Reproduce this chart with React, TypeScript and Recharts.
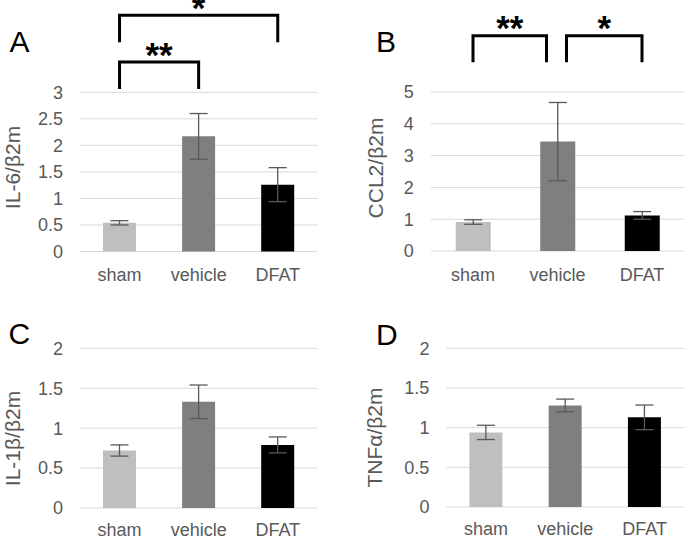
import React from 'react';
import { BarChart, Bar, XAxis, YAxis, CartesianGrid, ErrorBar, Cell, ReferenceLine } from 'recharts';

const categories = ['sham', 'vehicle', 'DFAT'];
const barColors = ['#bfbfbf', '#7f7f7f', '#000000'];

const il6Mean = [0.54, 2.17, 1.26];
const il6Err = [0.04, 0.43, 0.32];
const ccl2Mean = [0.91, 3.44, 1.12];
const ccl2Err = [0.07, 1.23, 0.12];
const il1bMean = [0.72, 1.33, 0.79];
const il1bErr = [0.07, 0.21, 0.1];
const tnfaMean = [0.94, 1.28, 1.13];
const tnfaErr = [0.09, 0.08, 0.155];

const il6Ticks = [0, 0.5, 1, 1.5, 2, 2.5, 3];
const ccl2Ticks = [0, 1, 2, 3, 4, 5];
const smallTicks = [0, 0.5, 1, 1.5, 2];

const il6Brackets = [
  { from: 'sham', to: 'vehicle', y: 3.57, label: '**', insetL: 0, insetR: 0 },
  { from: 'sham', to: 'DFAT', y: 4.45, label: '*', insetL: 0, insetR: 0 },
];
const ccl2Brackets = [
  { from: 'sham', to: 'vehicle', y: 6.77, label: '**', insetL: 0, insetR: 11 },
  { from: 'vehicle', to: 'DFAT', y: 6.77, label: '*', insetL: 9, insetR: 0 },
];

const FONT = '"Liberation Sans", Arial, Helvetica, sans-serif';

const build = (means: number[], errs: number[]) =>
  categories.map((c, i) => ({ name: c, value: means[i], err: errs[i] }));

const bracketShape = (insetL: number, insetR: number, label: string, leg: number) => (props: any) => {
  const { x1, y1, x2 } = props;
  const xa = x1 + insetL;
  const xb = x2 - insetR;
  return (
    <g>
      <path
        d={`M${xa},${y1 + leg}V${y1}H${xb}V${y1 + leg}`}
        stroke="#000"
        strokeWidth={3}
        fill="none"
        strokeLinejoin="miter"
      />
      <text
        x={(xa + xb) / 2}
        y={y1 + 4.5}
        textAnchor="middle"
        fontSize={35}
        fontWeight={700}
        fontFamily={FONT}
        fill="#000"
      >
        {label}
      </text>
    </g>
  );
};

type PanelProps = {
  left: number;
  top: number;
  width: number;
  height: number;
  margin: { top: number; right: number; bottom: number; left: number };
  xAxisHeight: number;
  xTickMargin: number;
  data: any[];
  ticks: number[];
  domainMax: number;
  barSize: number;
  yLabel: string;
  yLabelX: number;
  yLabelY: number;
  brackets?: any[];
  leg?: number;
};

const Panel = (p: PanelProps) => {
  const tickStyle = { fill: '#595959', fontSize: 18, fontFamily: FONT };
  return (
    <div style={{ position: 'absolute', left: p.left, top: p.top, width: p.width, height: p.height }}>
      <BarChart width={p.width} height={p.height} data={p.data} margin={p.margin}>
        <CartesianGrid vertical={false} stroke="#d9d9d9" strokeWidth={1} />
        <XAxis
          dataKey="name"
          axisLine={false}
          tickLine={false}
          tickSize={0}
          tickMargin={p.xTickMargin}
          height={p.xAxisHeight}
          tick={tickStyle}
          interval={0}
        />
        <YAxis
          width={60}
          domain={[0, p.domainMax]}
          ticks={p.ticks}
          axisLine={false}
          tickLine={false}
          tickSize={0}
          tickMargin={17}
          tick={tickStyle}
          label={{
            content: () => (
              <text
                x={p.yLabelX}
                y={p.yLabelY}
                dy="0.355em"
                transform={`rotate(-90 ${p.yLabelX} ${p.yLabelY})`}
                textAnchor="middle"
                fontSize={21}
                fontFamily={FONT}
                fill="#595959"
              >
                {p.yLabel}
              </text>
            ),
          }}
        />
        <Bar dataKey="value" barSize={p.barSize} isAnimationActive={false}>
          {p.data.map((d, i) => (
            <Cell key={d.name} fill={barColors[i]} />
          ))}
          <ErrorBar dataKey="err" direction="y" width={9} stroke="#595959" strokeWidth={1.3} />
        </Bar>
        {(p.brackets || []).map((b, i) => (
          <ReferenceLine
            key={i}
            segment={[
              { x: b.from, y: b.y },
              { x: b.to, y: b.y },
            ]}
            position="middle"
            ifOverflow="visible"
            shape={bracketShape(b.insetL, b.insetR, b.label, p.leg || 27)}
          />
        ))}
      </BarChart>
    </div>
  );
};

export default function App() {
  return (
    <div style={{ position: 'absolute', left: 0, top: 0, width: 685, height: 537, background: '#fff', overflow: 'hidden' }}>
      <Panel
        left={0}
        top={0}
        width={330}
        height={285}
        margin={{ top: 92.3, right: 12.7, bottom: 3.5, left: 20 }}
        xAxisHeight={30}
        xTickMargin={17}
        data={build(il6Mean, il6Err)}
        ticks={il6Ticks}
        domainMax={3}
        barSize={33}
        yLabel="IL-6/β2m"
        yLabelX={12.3}
        yLabelY={167.5}
        brackets={il6Brackets}
        leg={27}
      />
      <Panel
        left={340}
        top={0}
        width={345}
        height={285}
        margin={{ top: 92, right: 0.75, bottom: 4, left: 30.75 }}
        xAxisHeight={30}
        xTickMargin={17}
        data={build(ccl2Mean, ccl2Err)}
        ticks={ccl2Ticks}
        domainMax={5}
        barSize={35}
        yLabel="CCL2/β2m"
        yLabelX={35.5}
        yLabelY={168}
        brackets={ccl2Brackets}
        leg={26.5}
      />
      <Panel
        left={0}
        top={280}
        width={330}
        height={257}
        margin={{ top: 68.3, right: 12.7, bottom: 3, left: 20 }}
        xAxisHeight={26}
        xTickMargin={15}
        data={build(il1bMean, il1bErr)}
        ticks={smallTicks}
        domainMax={2}
        barSize={33}
        yLabel="IL-1β/β2m"
        yLabelX={12.3}
        yLabelY={158.5}
      />
      <Panel
        left={340}
        top={280}
        width={345}
        height={257}
        margin={{ top: 68.3, right: 0.8, bottom: 4, left: 46.4 }}
        xAxisHeight={26}
        xTickMargin={15}
        data={build(tnfaMean, tnfaErr)}
        ticks={smallTicks}
        domainMax={2}
        barSize={33}
        yLabel="TNFα/β2m"
        yLabelX={35}
        yLabelY={157.5}
      />
      <svg
        width={685}
        height={537}
        style={{ position: 'absolute', left: 0, top: 0, pointerEvents: 'none' }}
      >
        <g fontFamily={FONT} fontSize={30} fill="#000">
          <text x={9.5} y={51.5}>A</text>
          <text x={376} y={51.5}>B</text>
          <text x={8.5} y={344}>C</text>
          <text x={376} y={344.5}>D</text>
        </g>
      </svg>
    </div>
  );
}
